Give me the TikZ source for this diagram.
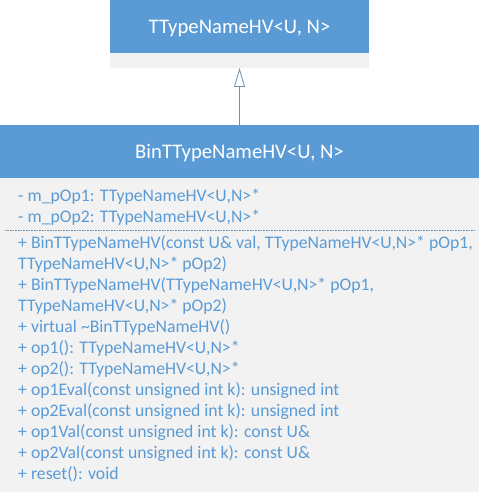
\documentclass[tikz,border=0pt]{standalone}
\usepackage{fontspec}
\setmainfont{Carlito}
\usetikzlibrary{arrows.meta}
\definecolor{umlblue}{HTML}{5B9BD5}
\definecolor{umlgray}{HTML}{F2F2F2}
\definecolor{umlline}{HTML}{6F8FAF}

\begin{document}
\begin{tikzpicture}[x=1pt,y=-1pt,>=stealth,
    head/.style={rectangle,fill=umlblue,inner sep=0pt,outer sep=0pt,minimum height=53pt,text height=14.5pt,text depth=0pt,text=white,font=\fontsize{20.7}{24}\selectfont},
    body/.style={rectangle,fill=umlgray,inner sep=0pt,outer sep=0pt},
    member/.style={anchor=north west,inner sep=0pt,align=left,text=umlblue,font=\fontsize{17.7}{21}\selectfont}]

            \useasboundingbox (0,0) rectangle (479,492);

            % base class
            \node[head, minimum width=259pt, anchor=north west] (basehead) at (110,0) {TTypeNameHV<U, N>};
            \node[body, minimum width=259pt, minimum height=15pt, anchor=north] (basebody) at (basehead.south) {};

            % derived class
            \node[head, minimum width=479pt, anchor=north west] (binhead) at (0,125) {BinTTypeNameHV<U, N>};
            \node[body, minimum width=479pt, minimum height=314pt, anchor=north] (binbody) at (binhead.south) {};

            \node[member] (attrs) at (18,188.5) {- m\_pOp1: TTypeNameHV<U,N>*\\
- m\_pOp2: TTypeNameHV<U,N>*};
            \coordinate (sepl) at (5,230);
            \coordinate (sepr) at (474,230);
            \draw[umlline, densely dotted, line width=0.6pt] (sepl) to (sepr);
            \node[member] (ops) at (18,235) {+ BinTTypeNameHV(const U\& val, TTypeNameHV<U,N>* pOp1,\\
TTypeNameHV<U,N>* pOp2)\\
+ BinTTypeNameHV(TTypeNameHV<U,N>* pOp1,\\
TTypeNameHV<U,N>* pOp2)\\
+ virtual \textasciitilde BinTTypeNameHV()\\
+ op1(): TTypeNameHV<U,N>*\\
+ op2(): TTypeNameHV<U,N>*\\
+ op1Eval(const unsigned int k): unsigned int\\
+ op2Eval(const unsigned int k): unsigned int\\
+ op1Val(const unsigned int k): const U\&\\
+ op2Val(const unsigned int k): const U\&\\
+ reset(): void};

            % inheritance
            \draw[umlline, line width=0.8pt, -{Triangle[open, width=11pt, length=19pt]}] (binhead.north) to (basebody.south);

            ;
        \end{tikzpicture}
\end{document}
